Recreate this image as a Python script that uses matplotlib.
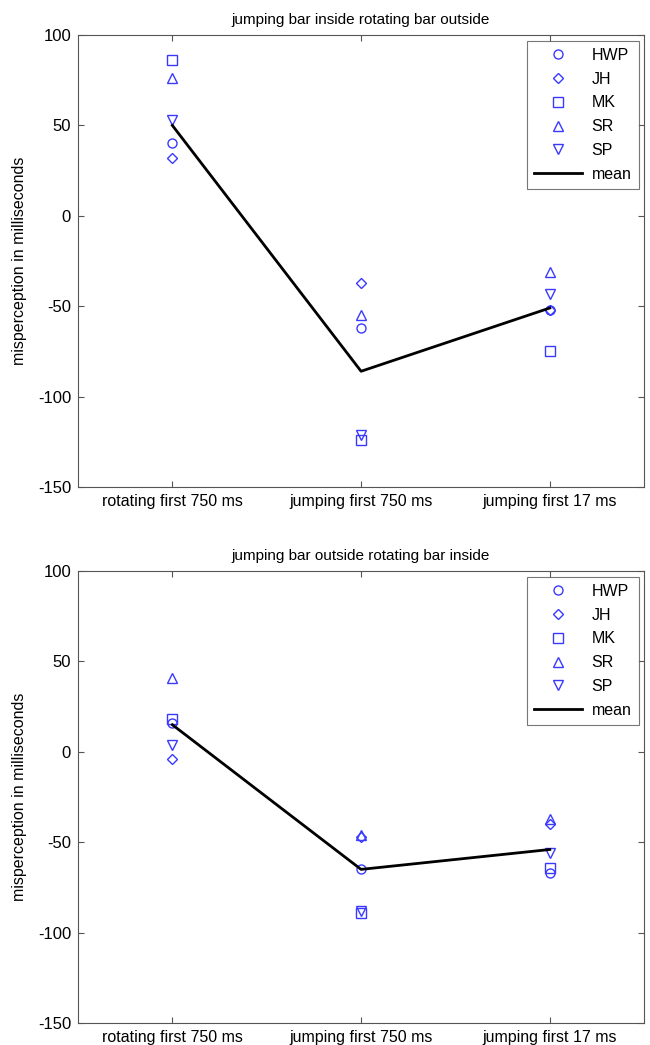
import numpy as np
import matplotlib
matplotlib.use("Agg")
import matplotlib.pyplot as plt

plt.rcParams['font.family'] = ['Liberation Sans', 'DejaVu Sans']

conditions = ['rotating first 750 ms', 'jumping first 750 ms', 'jumping first 17 ms']
subjects = ['HWP', 'JH', 'MK', 'SR', 'SP']
markers = ['o', 'D', 's', '^', 'v']
msizes = [6.5, 5.2, 6.5, 6.5, 6.5]

# top panel: jumping bar inside rotating bar outside
top_HWP = [40, -62, -52]
top_JH = [32, -37, -52]
top_MK = [86, -124, -75]
top_SR = [76, -55, -31]
top_SP = [53, -121, -43]
top_mean = [50, -86, -51]

# bottom panel: jumping bar outside rotating bar inside
bot_HWP = [16, -65, -67]
bot_JH = [-4, -47, -40]
bot_MK = [18, -89, -64]
bot_SR = [41, -46, -37]
bot_SP = [4, -88, -56]
bot_mean = [15, -65, -54]

panels = [
    ('jumping bar inside rotating bar outside',
     [top_HWP, top_JH, top_MK, top_SR, top_SP], top_mean),
    ('jumping bar outside rotating bar inside',
     [bot_HWP, bot_JH, bot_MK, bot_SR, bot_SP], bot_mean),
]

fig = plt.figure(figsize=(6.5, 10.45), dpi=100)
axes_pos = [[0.12, 0.534, 0.871, 0.4325], [0.12, 0.021, 0.871, 0.4325]]
x = np.arange(1, 4)
gray = '#555555'

for pos, (title, series, mean) in zip(axes_pos, panels):
    ax = fig.add_axes(pos)
    for name, m, ms, vals in zip(subjects, markers, msizes, series):
        ax.plot(x, vals, linestyle='none', marker=m, markersize=ms,
                markerfacecolor='none', markeredgecolor='#3a3aff',
                markeredgewidth=1.0, label=name)
    ax.plot(x, mean, color='black', linewidth=2, label='mean')

    ax.set_xlim(0.5, 3.5)
    ax.set_ylim(-150, 100)
    ax.set_xticks(x)
    ax.set_xticklabels(conditions, fontsize=11.5)
    ax.set_yticks([-150, -100, -50, 0, 50, 100])
    ax.set_yticklabels(['-150', '-100', '-50', '0', '50', '100'], fontsize=12)
    ax.tick_params(direction='in', top=True, right=True, length=4,
                   color=gray, pad=5)
    for s in ax.spines.values():
        s.set_color(gray)
    ax.set_ylabel('misperception in milliseconds', fontsize=11.5, labelpad=8)
    ax.set_title(title, fontsize=11, pad=8)
    leg = ax.legend(loc='upper right', fontsize=11.5, fancybox=False,
                    handlelength=3.0, borderaxespad=0.35, labelspacing=0.55,
                    handletextpad=0.6, borderpad=0.45)
    leg.get_frame().set_edgecolor(gray)
    leg.get_frame().set_linewidth(0.8)

fig.savefig('out.png', dpi=100)
